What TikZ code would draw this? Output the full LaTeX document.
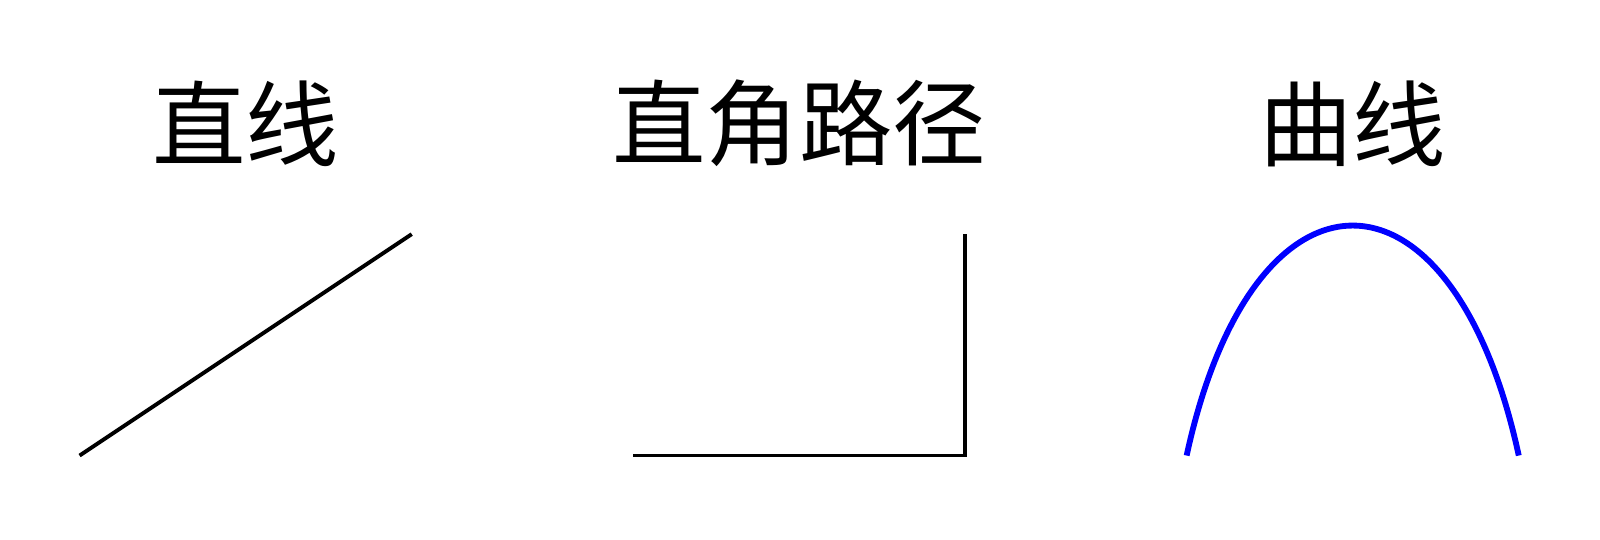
\documentclass[tikz,border=0pt]{standalone}
\usepackage{fontspec}
\newfontfamily\cjk{Noto Sans CJK SC}
\usetikzlibrary{positioning}
\usetikzlibrary{calc}

\begin{document}
\begin{tikzpicture}[
        every node/.style={font=\cjk\fontsize{24}{28}\selectfont},
        title/.style={anchor=center},
        plainline/.style={line width=1pt,draw=black},
        curve/.style={line width=1.5pt,draw=blue}
      ]
      \useasboundingbox (-0.719,-0.754) rectangle (13.734,4.115);
      % straight line
      \coordinate (lineA) at (0,0);
      \coordinate (lineB) at (3,2);
      \node(lineT)[title] at (1.5,3) {直线};
      \draw[plainline] (lineA) -- (lineB);
      % right-angle path
      \coordinate (angleA) at (5,0);
      \coordinate (angleB) at (8,2);
      \node(angleT)[title] at (6.5,3) {直角路径};
      \draw[plainline] (angleA) -| (angleB);
      % curve
      \coordinate (curveA) at (10,0);
      \coordinate (curveB) at (13,0);
      \node(curveT)[title] at (11.5,3) {曲线};
      \draw[curve] (curveA) .. controls (10.6,2.77) and (12.4,2.77) .. (curveB);
\end{tikzpicture}
\end{document}
